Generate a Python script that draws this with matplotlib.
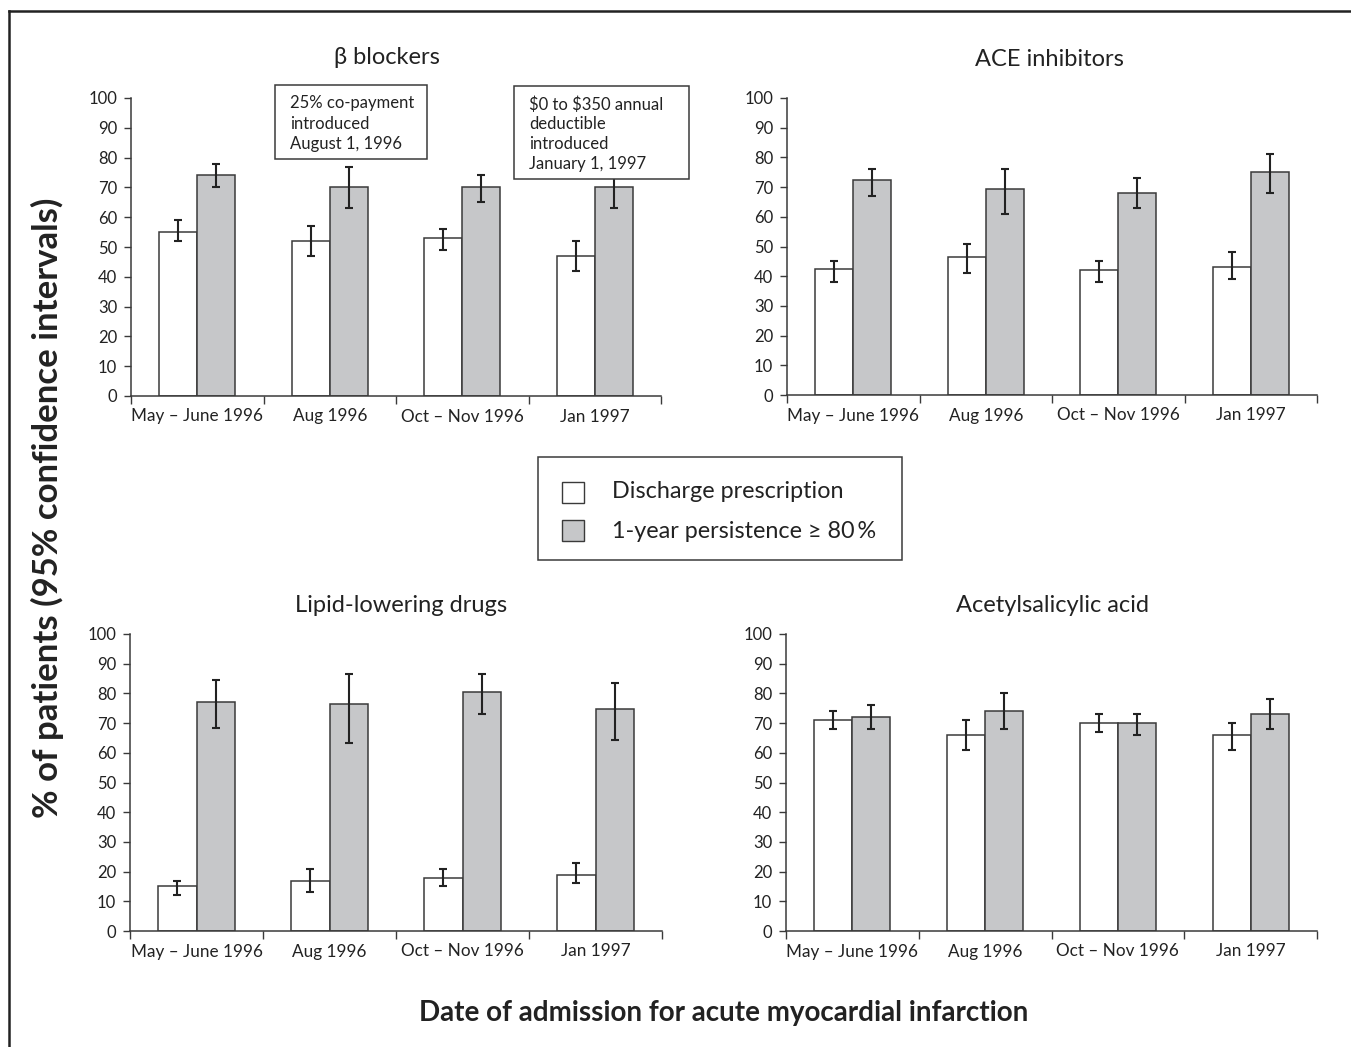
import matplotlib
matplotlib.use("Agg")
import matplotlib.pyplot as plt
from matplotlib.lines import Line2D
from matplotlib.patches import Rectangle
import numpy as np

plt.rcParams['font.family'] = ['Lato', 'DejaVu Sans']

categories = ["May \u2013 June 1996", "Aug 1996", "Oct \u2013 Nov 1996", "Jan 1997"]
series_names = ["Discharge prescription", "1-year persistence \u2265 80\u2009%"]

titles = ["\u03b2 blockers", "ACE inhibitors", "Lipid-lowering drugs", "Acetylsalicylic acid"]

# values, lower CI, upper CI
beta_disc = [55, 52, 53, 47]
beta_disc_lo = [52, 47, 49, 42]
beta_disc_hi = [59, 57, 56, 52]
beta_pers = [74, 70, 70, 70]
beta_pers_lo = [70, 63, 65, 63]
beta_pers_hi = [78, 77, 74, 77]

ace_disc = [42.5, 46.5, 42, 43]
ace_disc_lo = [38, 41, 38, 39]
ace_disc_hi = [45, 51, 45, 48]
ace_pers = [72.5, 69.5, 68, 75]
ace_pers_lo = [67, 61, 63, 68]
ace_pers_hi = [76, 76, 73, 81]

lipid_disc = [15, 17, 18, 19]
lipid_disc_lo = [12, 13, 15, 16]
lipid_disc_hi = [17, 21, 21, 23]
lipid_pers = [77.2, 76.3, 80.6, 74.7]
lipid_pers_lo = [68.4, 63.4, 73.2, 64.3]
lipid_pers_hi = [84.4, 86.5, 86.6, 83.5]

asa_disc = [71, 66, 70, 66]
asa_disc_lo = [68, 61, 67, 61]
asa_disc_hi = [74, 71, 73, 70]
asa_pers = [72, 74, 70, 73]
asa_pers_lo = [68, 68, 66, 68]
asa_pers_hi = [76, 80, 73, 78]

yticks = list(range(0, 101, 10))

annotation_1 = "25% co-payment\nintroduced\nAugust 1, 1996"
annotation_2 = "$0 to $350 annual\ndeductible\nintroduced\nJanuary 1, 1997"

panels = [
    (beta_disc, beta_disc_lo, beta_disc_hi, beta_pers, beta_pers_lo, beta_pers_hi),
    (ace_disc, ace_disc_lo, ace_disc_hi, ace_pers, ace_pers_lo, ace_pers_hi),
    (lipid_disc, lipid_disc_lo, lipid_disc_hi, lipid_pers, lipid_pers_lo, lipid_pers_hi),
    (asa_disc, asa_disc_lo, asa_disc_hi, asa_pers, asa_pers_lo, asa_pers_hi),
]

W, H = 1351, 1047
fig = plt.figure(figsize=(W / 100, H / 100), dpi=100)

def fx(px):
    return px / W

def fy(py):
    return 1 - py / H

# axes pixel boxes: left, right, top(y=100), bottom(y=0)
boxes = [(131, 661, 98, 396), (787, 1317, 98, 395), (130, 662, 634, 931), (786, 1317, 634, 931)]
title_pos = [(387, 58), (1049, 60), (401, 606), (1053, 606)]

edge = "#3a3a3a"
txtc = "#222222"
gray = "#c6c7c9"
bw = 0.286

for i, (vals, (l, r, t, b)) in enumerate(zip(panels, boxes)):
    ax = fig.add_axes([fx(l), fy(b), fx(r) - fx(l), (b - t) / H])
    d, dlo, dhi, p, plo, phi = vals
    x = np.arange(len(categories)) + 0.5
    ax.bar(x - bw / 2, d, width=bw, color="white", edgecolor=edge, linewidth=1.1, zorder=2)
    ax.bar(x + bw / 2, p, width=bw, color=gray, edgecolor=edge, linewidth=1.1, zorder=2)
    d = np.array(d); p = np.array(p)
    ax.errorbar(x - bw / 2, d, yerr=[d - np.array(dlo), np.array(dhi) - d], fmt="none",
                ecolor=txtc, elinewidth=1.5, capsize=3, capthick=1.5, zorder=3)
    ax.errorbar(x + bw / 2, p, yerr=[p - np.array(plo), np.array(phi) - p], fmt="none",
                ecolor=txtc, elinewidth=1.5, capsize=3, capthick=1.5, zorder=3)
    ax.set_ylim(0, 100)
    ax.set_xlim(0, 4)
    ax.set_yticks(yticks)
    ax.set_yticklabels([str(v) for v in yticks], fontsize=12, color=txtc)
    ax.set_xticks(np.arange(0, 5))
    ax.set_xticklabels([])
    ax.set_xticks(x, minor=True)
    ax.set_xticklabels(categories, minor=True, fontsize=12.3, color=txtc)
    ax.tick_params(axis="x", which="minor", length=0, pad=9)
    ax.tick_params(axis="x", which="major", length=6, width=1, color=edge)
    ax.tick_params(axis="y", length=5, width=1, color=edge, pad=5)
    for s in ["top", "right"]:
        ax.spines[s].set_visible(False)
    for s in ["left", "bottom"]:
        ax.spines[s].set_color(edge)
        ax.spines[s].set_linewidth(1.1)
    ax.patch.set_alpha(0)
    tx, ty = title_pos[i]
    fig.text(fx(tx), fy(ty), titles[i], ha="center", va="center", fontsize=17, color=txtc)

# annotation boxes (figure pixel coordinates)
fig.patches.append(Rectangle((fx(275), fy(159)), fx(427) - fx(275), (159 - 85) / H,
                             transform=fig.transFigure, facecolor="white", edgecolor=edge,
                             linewidth=1.1, zorder=5))
fig.text(fx(290), fy(95), annotation_1, ha="left", va="top",
         fontsize=12, color=txtc, linespacing=1.35, zorder=7, parse_math=False)
fig.patches.append(Rectangle((fx(514), fy(179)), fx(689) - fx(514), (179 - 86) / H,
                             transform=fig.transFigure, facecolor="white", edgecolor=edge,
                             linewidth=1.1, zorder=5))
fig.text(fx(529), fy(96), annotation_2, ha="left",
         va="top", fontsize=12, color=txtc, linespacing=1.3, zorder=7, parse_math=False)

# legend box
fig.patches.append(Rectangle((fx(538), fy(560)), fx(902) - fx(538), (560 - 457) / H,
                             transform=fig.transFigure, facecolor="white", edgecolor=edge,
                             linewidth=1.1, zorder=5))
fig.patches.append(Rectangle((fx(562), fy(503)), fx(584) - fx(562), 21 / H,
                             transform=fig.transFigure, facecolor="white", edgecolor=edge,
                             linewidth=1.0, zorder=6))
fig.patches.append(Rectangle((fx(562), fy(541)), fx(584) - fx(562), 21 / H,
                             transform=fig.transFigure, facecolor=gray, edgecolor=edge,
                             linewidth=1.0, zorder=6))
fig.text(fx(612), fy(492), series_names[0], ha="left", va="center", fontsize=16.8,
         color=txtc, zorder=7)
fig.text(fx(612), fy(532), series_names[1], ha="left", va="center", fontsize=16.8,
         color=txtc, zorder=7)

# axis labels
fig.text(fx(47), fy(508), "% of patients (95% confidence intervals)", rotation=90,
         ha="center", va="center", fontsize=25, fontweight="bold", color=txtc)
fig.text(fx(724), fy(1013), "Date of admission for acute myocardial infarction",
         ha="center", va="center", fontsize=20, fontweight="bold", color=txtc)

# outer frame (top and left)
fig.lines.append(Line2D([fx(9), 1.0], [fy(11), fy(11)], transform=fig.transFigure,
                        color=txtc, linewidth=1.8))
fig.lines.append(Line2D([fx(9), fx(9)], [fy(11), 0.0], transform=fig.transFigure,
                        color=txtc, linewidth=1.8))

fig.savefig("out.png", dpi=100)
